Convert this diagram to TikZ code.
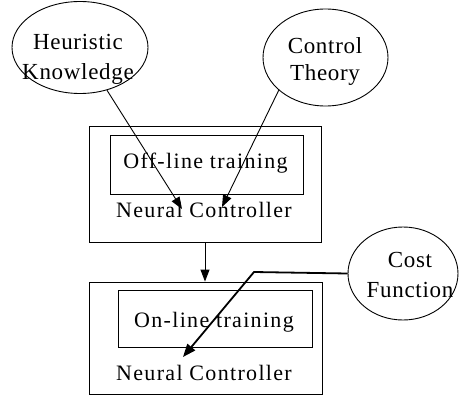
\documentclass[tikz,border=0pt]{standalone}
\usepackage{fontspec}
\setmainfont{Liberation Serif}
\newfontfamily\spacedfont[LetterSpace=6]{Liberation Serif}
\newfontfamily\lightspaced[LetterSpace=3]{Liberation Serif}
\usetikzlibrary{shapes.geometric,arrows.meta}
\tikzset{
  ell/.style={draw, ellipse, line width=0.9pt, inner sep=0pt},
  boxo/.style={draw, rectangle, line width=0.9pt, inner sep=0pt},
  txt/.style={anchor=base, align=center, inner sep=0pt},
  conn/.style={line width=0.9pt, -{Triangle[length=12pt,width=9pt]}},
  thickconn/.style={line width=1.8pt, -{Triangle[length=13pt,width=10pt]}}
}
\begin{document}
\begin{tikzpicture}[x=1pt,y=-1pt]
\useasboundingbox (0,0) rectangle (460,396);
% ellipses
\node[ell, minimum width=136pt, minimum height=92pt] (heu) at (80,47.5) {};
\node[ell, minimum width=125pt, minimum height=97pt] (ctl) at (325.5,57.5) {};
\node[ell, minimum width=110pt, minimum height=93pt] (cost) at (403,273.5) {};
\node[txt, font=\lightspaced\fontsize{23}{29}\selectfont] (heut) at (78,79) {Heuristic\\Knowledge};
\node[txt, font=\lightspaced\fontsize{23}{28}\selectfont] (ctlt) at (325,81) {Control\\Theory};
\node[txt, font=\lightspaced\fontsize{23}{30}\selectfont] (costt) at (410,297) {Cost\\Function};
% boxes
\node[boxo, minimum width=232pt, minimum height=116pt] (otop) at (205,184) {};
\node[boxo, minimum width=193pt, minimum height=59pt] (itop) at (206.5,164.5) {};
\node[boxo, minimum width=233pt, minimum height=112pt] (obot) at (205.5,338) {};
\node[boxo, minimum width=194pt, minimum height=57pt] (ibot) at (215,318.5) {};
\node[txt, font=\spacedfont\fontsize{22}{26}\selectfont] (offt) at (205.5,168) {Off-line training};
\node[txt, font=\spacedfont\fontsize{22}{26}\selectfont] (nct) at (204,217) {Neural Controller};
\node[txt, font=\spacedfont\fontsize{22}{26}\selectfont] (ont) at (214,327) {On-line training};
\node[txt, font=\spacedfont\fontsize{22}{26}\selectfont] (ncb) at (204,380) {Neural Controller};
% connectors
\coordinate (h1) at (182,209);
\coordinate (c1) at (222,207);
\coordinate (k1) at (254,272);
\coordinate (k2) at (183,357);
\draw[conn] (heu) -- (h1);
\draw[conn] (ctl.215) -- (c1);
\draw[thickconn] (cost.west) -- (k1) -- (k2);
\draw[conn] (otop.south) -- (otop.south |- obot.north);
\end{tikzpicture}
\end{document}
